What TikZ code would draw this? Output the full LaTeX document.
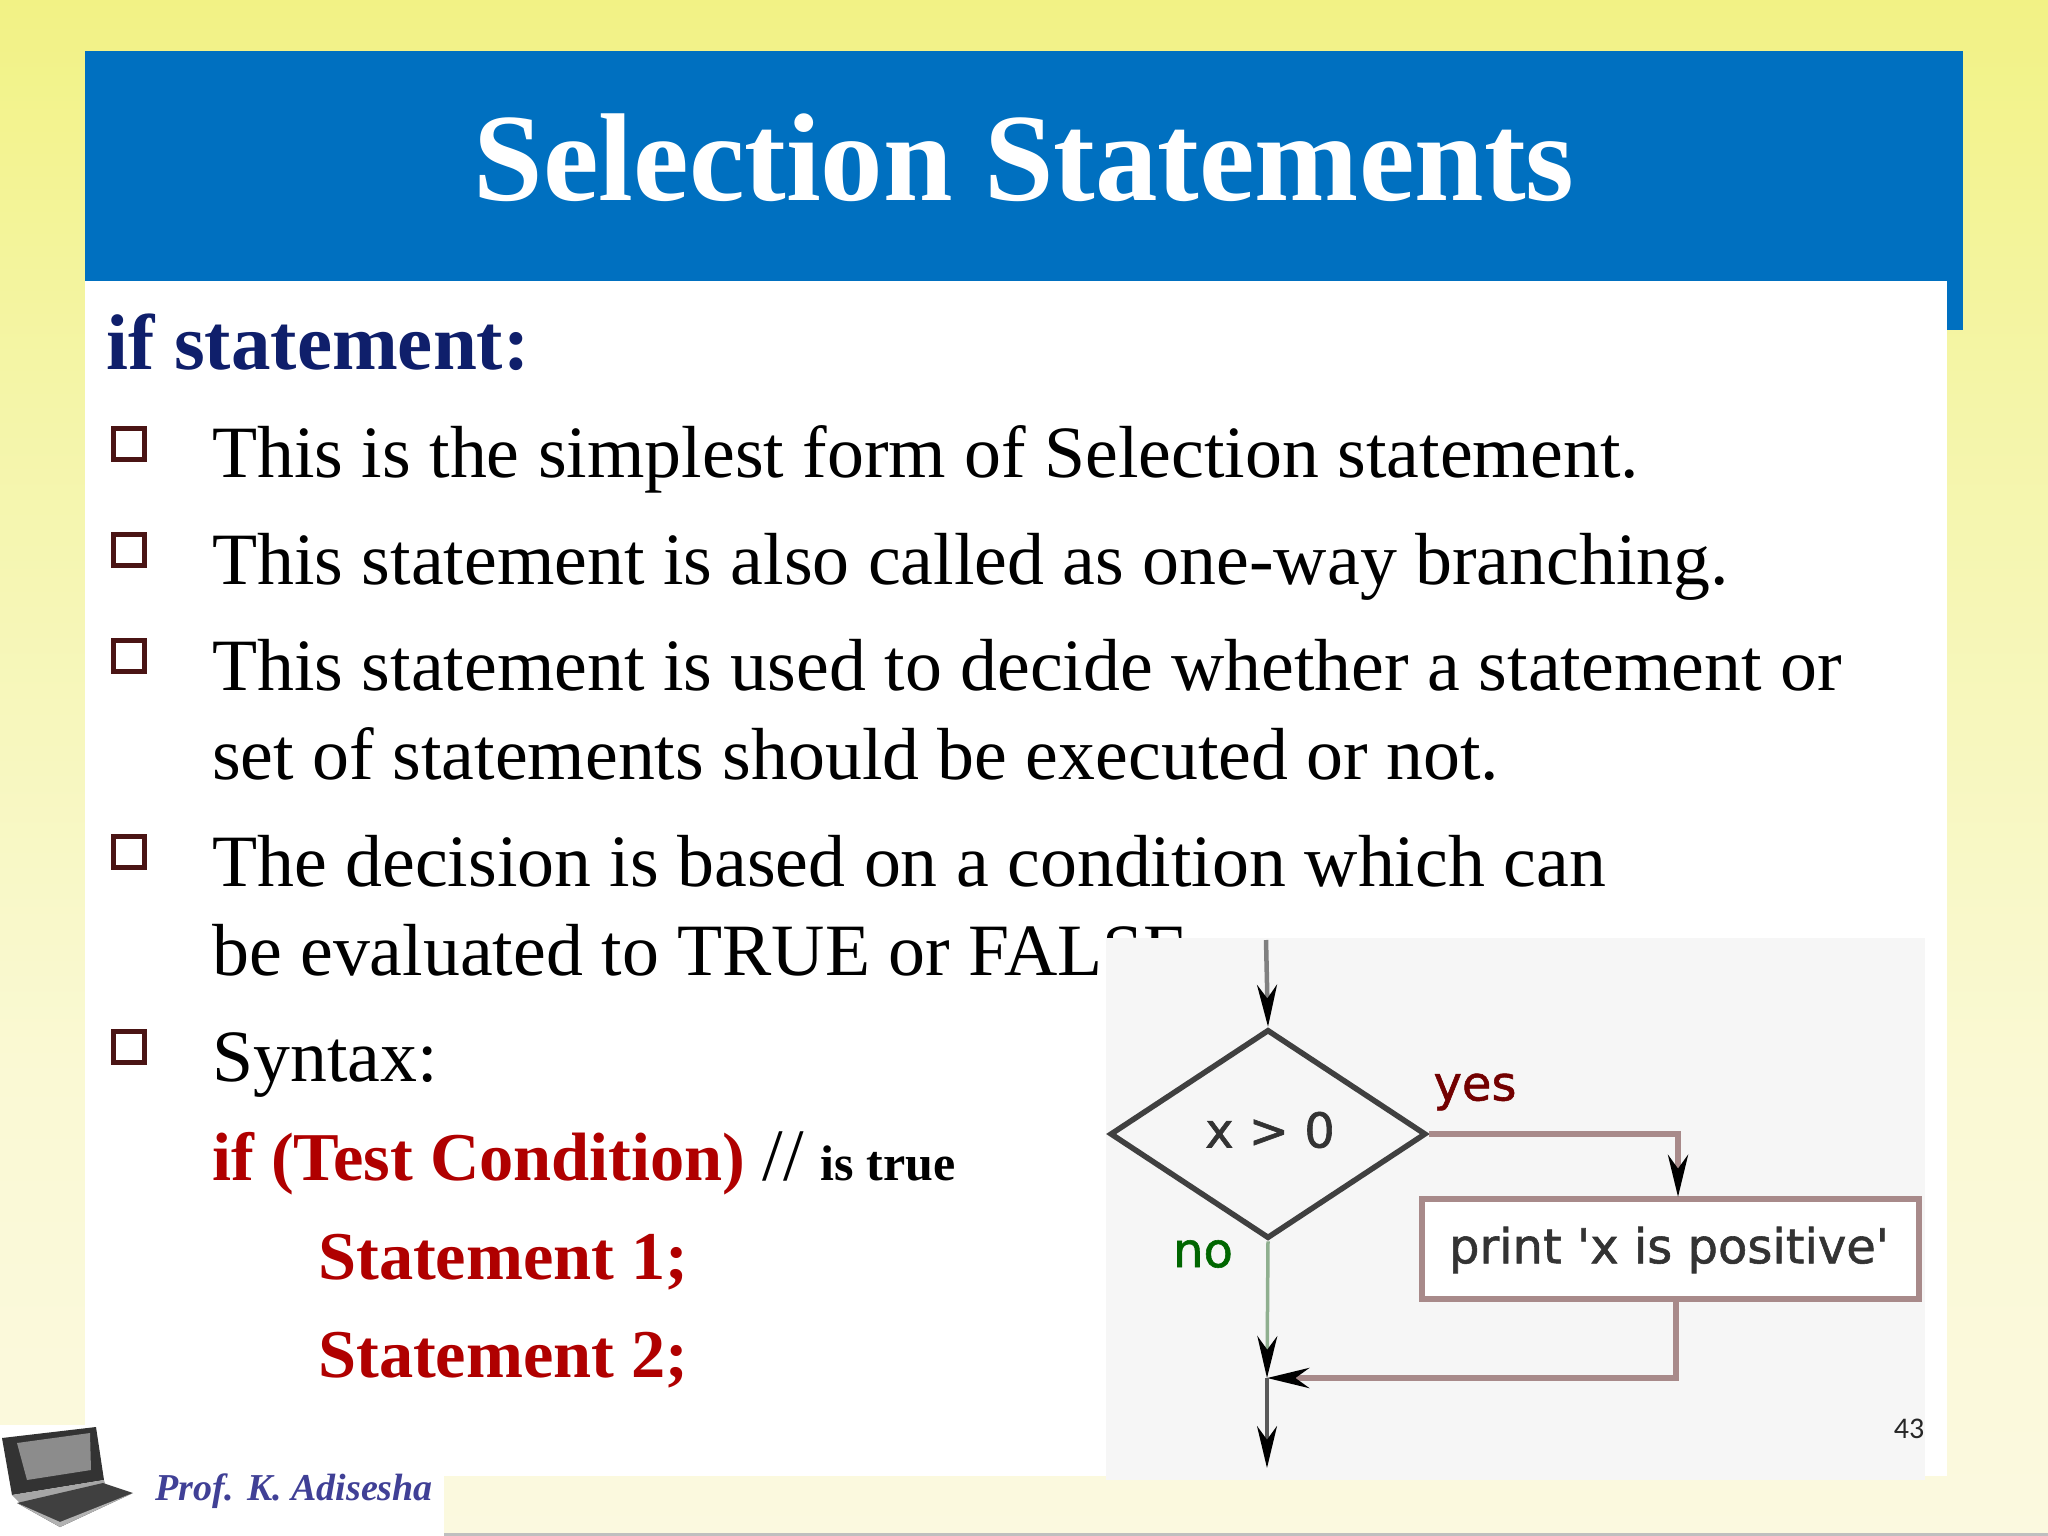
\documentclass[tikz,border=0pt]{standalone}
\usepackage{fontspec}
\setmainfont{Liberation Serif}
\newfontfamily\djv[FakeBold=1.2]{DejaVu Sans}
\newfontfamily\clb{Carlito}
\usetikzlibrary{shapes.geometric,arrows.meta,calc}
\definecolor{bluebar}{HTML}{0070C0}
\definecolor{navy}{HTML}{0F1F6B}
\definecolor{redtxt}{HTML}{B00000}
\definecolor{bulletc}{HTML}{4A1414}
\definecolor{imgbg}{HTML}{F6F6F6}
\definecolor{bgtop}{HTML}{F2F285}
\definecolor{bgmid}{HTML}{F4F5A8}
\definecolor{bglow}{HTML}{FAF9D4}
\definecolor{bgbot}{HTML}{FBF9DF}
\definecolor{redline}{HTML}{A88A8A}
\definecolor{greenline}{HTML}{8FAF8F}
\pgfdeclareverticalshading{slidebg}{100bp}{color(0bp)=(bgbot);color(25bp)=(bgbot);color(40bp)=(bglow);color(62bp)=(bgmid);color(75bp)=(bgtop);color(100bp)=(bgtop)}
\tikzset{
  x=1pt,y=-1pt,
  body/.style={anchor=base west,inner sep=0,font=\fontsize{73.8}{80}\selectfont,text=black},
  redtext/.style={anchor=base west,inner sep=0,font=\fontsize{68.4}{80}\selectfont\bfseries,text=redtxt},
  bulletbox/.style={draw=bulletc,line width=4.5pt,fill=white,minimum size=31pt,inner sep=0,anchor=north west},
  fc/.style={font=\djv\fontsize{48}{50}\selectfont,text=black!80,inner sep=0},
  tipk/.style={-{Stealth[length=42pt,width=20pt,black]}},
}
\begin{document}
\begin{tikzpicture}
\useasboundingbox (0,0) rectangle (2048,1536);
% background
\shade[shading=slidebg] (0,0) rectangle (2048,1536);
\fill[bluebar] (85,51) rectangle (1963,330);
\fill[white] (85,281) rectangle (1947,1476);
\fill[white] (0,1425) rectangle (444,1536);
\fill[black!25] (444,1533) rectangle (2048,1536);
% title
\node[anchor=base,inner sep=0,font=\fontsize{125}{130}\selectfont\bfseries,text=white] (title) at (1024,200) {Selection Statements};
% text
\node[anchor=base west,inner sep=0,font=\fontsize{79}{85}\selectfont\bfseries,text=navy] (head) at (106,369) {if statement:};
\node[bulletbox] (b1) at (111,426) {};
\node[bulletbox] (b2) at (111,532) {};
\node[bulletbox] (b3) at (111,638) {};
\node[bulletbox] (b4) at (111,834) {};
\node[bulletbox] (b5) at (111,1029) {};
\node[body] (t1) at (212,477) {This is the simplest form of Selection statement.};
\node[body] (t2) at (212,584) {This statement is also called as one-way branching.};
\node[body] (t3) at (212,690) {This statement is used to decide whether a statement or};
\node[body] (t3b) at (212,779) {set of statements should be executed or not.};
\node[body] (t4) at (212,886) {The decision is based on a condition which can};
\node[body] (t4b) at (212,975) {be evaluated to TRUE or FALSE.};
\node[body] (t5) at (212,1081) {Syntax:};
\node[redtext] (s0) at (212,1180) {if (Test Condition) {\mdseries\fontsize{74}{80}\selectfont\color{black}//} {\fontsize{50}{50}\selectfont\color{black}is true}};
\node[redtext] (s1) at (318,1279) {Statement 1;};
\node[redtext] (s2) at (318,1377) {Statement 2;};
% flowchart picture
\fill[imgbg] (1106,938) rectangle (1925,1480);
\coordinate (in) at (1266,940);
\node[diamond,draw=black!75,line width=5.5pt,minimum width=316pt,minimum height=209pt,inner sep=0,aspect=1.5] (dec) at (1268,1134) {};
\node[fc] (dect) at (1270,1130) {x > 0};
\node[draw=redline,line width=6pt,fill=white,minimum width=497pt,minimum height=100pt,inner sep=0] (act) at (1670,1249) {};
\node[fc] (actt) at (1669,1250) {print 'x is positive'};
\node[fc,text=red!45!black] (yes) at (1475,1092) {yes};
\node[fc,text=green!40!black] (no) at (1203,1254) {no};
\coordinate (join) at (1267,1378);
\coordinate (out) at (1267,1468);
\draw[black!50,line width=4.5pt,tipk] (in) -- (dec.north);
\draw[redline,line width=6pt,tipk] (dec.east) -| (1678,1197);
\draw[greenline,line width=3.5pt,tipk] (dec.south) -- (join);
\draw[redline,line width=6pt,tipk] (act.south -| 1676,0) |- (join);
\draw[black!65,line width=3.5pt,tipk] (join) -- (out);
\node[anchor=center,inner sep=0,font=\clb\fontsize{30}{32}\selectfont,text=black!85] (num) at (1909,1429) {43};
% logo
\fill[black!80] (2,1438) -- (96,1427) -- (104,1480) -- (12,1495) -- cycle;
\fill[black!45] (17,1443) -- (90,1433) -- (91,1470) -- (27,1480) -- cycle;
\fill[black!35] (12,1495) -- (104,1480) -- (106,1486) -- (20,1503) -- cycle;
\fill[black!75] (17,1503) -- (103,1483) -- (133,1493) -- (60,1527) -- cycle;
\fill[black!30] (17,1503) -- (60,1527) -- (133,1493) -- (60,1522) -- cycle;
\node[anchor=base west,inner sep=0,font=\fontsize{38}{40}\selectfont\bfseries\itshape,text=blue!45!black!75!white] (prof) at (155,1500) {Prof. K. Adisesha};
\end{tikzpicture}
\end{document}
